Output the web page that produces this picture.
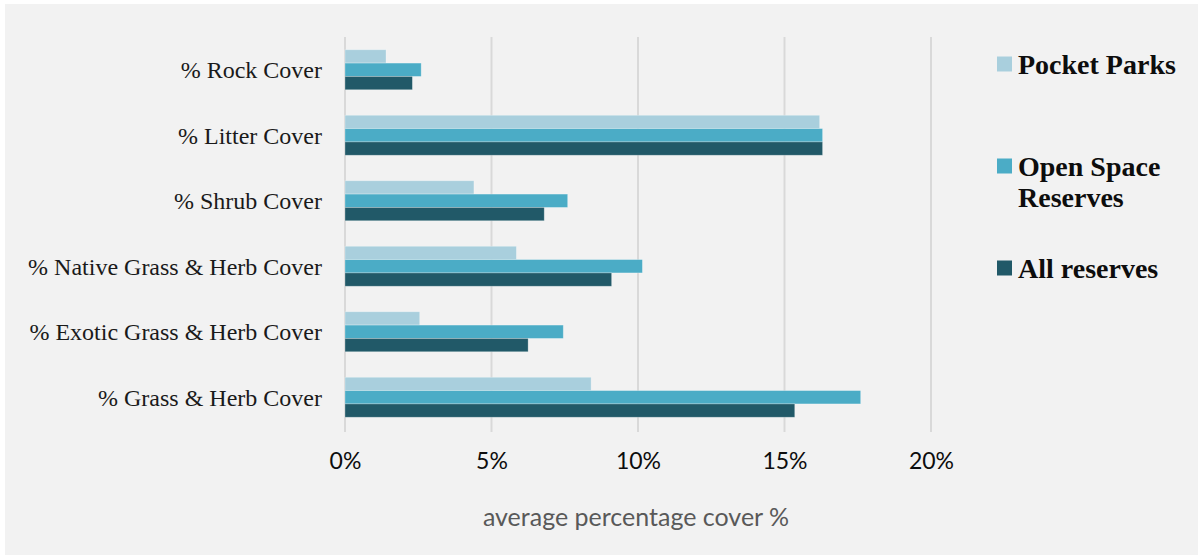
<!DOCTYPE html>
<html>
<head>
<meta charset="utf-8">
<script src="https://cdn.jsdelivr.net/npm/d3@7"></script>
<style>
  html, body { margin: 0; padding: 0; background: #fff; }
</style>
</head>
<body>
<div id="chart"></div>
<script>
// data
const categories = [
  '% Rock Cover',
  '% Litter Cover',
  '% Shrub Cover',
  '% Native Grass & Herb Cover',
  '% Exotic Grass & Herb Cover',
  '% Grass & Herb Cover',
]
const seriesNames = ['Pocket Parks', 'Open Space Reserves', 'All reserves']
const pocketParks = [1.4, 16.2, 4.4, 5.85, 2.55, 8.4]
const openSpaceReserves = [2.6, 16.3, 7.6, 10.15, 7.45, 17.6]
const allReserves = [2.3, 16.3, 6.8, 9.1, 6.25, 15.35]
const xTicks = [0, 5, 10, 15, 20]
const colors = ['#a9cfdd', '#4bacc6', '#215968']

const width = 1203
const height = 559
const margin = { top: 37, right: 272, bottom: 129, left: 345 }

const svg = d3
  .create('svg')
  .attr('width', width)
  .attr('height', height)

// panel background
svg
  .append('rect')
  .attr('x', 5)
  .attr('y', 4)
  .attr('width', width - 10)
  .attr('height', height - 8)
  .attr('fill', '#f2f2f2')

const xScale = d3
  .scaleLinear()
  .domain([0, 20])
  .range([margin.left, width - margin.right])

const yScale = d3
  .scaleBand()
  .domain(categories)
  .range([margin.top, height - margin.bottom])

const innerScale = d3
  .scaleBand()
  .domain(seriesNames)
  .range([0, 40])

// gridlines
svg
  .append('g')
  .attr('class', 'grid')
  .selectAll('line')
  .data(xTicks)
  .join('line')
  .attr('x1', d => xScale(d))
  .attr('x2', d => xScale(d))
  .attr('y1', margin.top)
  .attr('y2', height - margin.bottom + 2)
  .attr('stroke', '#d9d9d9')
  .attr('stroke-width', 2)

// bars
const table = categories.map((c, i) => ({
  category: c,
  values: [pocketParks[i], openSpaceReserves[i], allReserves[i]],
}))

const groups = svg
  .append('g')
  .selectAll('g')
  .data(table)
  .join('g')
  .attr('transform', d => `translate(0, ${yScale(d.category) + (yScale.bandwidth() - 40) / 2})`)

groups
  .selectAll('rect')
  .data(d => d.values.map((v, j) => ({ name: seriesNames[j], value: v, color: colors[j] })))
  .join('rect')
  .attr('x', xScale(0))
  .attr('y', d => innerScale(d.name))
  .attr('width', d => xScale(d.value) - xScale(0))
  .attr('height', innerScale.bandwidth())
  .attr('fill', d => d.color)
  .attr('stroke', 'rgba(255,255,255,0.35)')
  .attr('stroke-width', 0.8)

// category labels
svg
  .append('g')
  .selectAll('text')
  .data(categories)
  .join('text')
  .attr('x', 322)
  .attr('y', d => yScale(d) + yScale.bandwidth() / 2)
  .attr('dy', '0.35em')
  .attr('text-anchor', 'end')
  .attr('font-family', 'Liberation Serif, serif')
  .attr('font-size', 24)
  .attr('fill', '#1a1a1a')
  .text(d => d)

// x axis
const xAxis = d3
  .axisBottom(xScale)
  .tickValues(xTicks)
  .tickFormat(d => d + '%')
  .tickSize(0)
  .tickPadding(0)

const xAxisGroup = svg
  .append('g')
  .attr('transform', `translate(0, 461)`)
  .call(xAxis)
xAxisGroup.select('.domain').remove()
xAxisGroup
  .selectAll('text')
  .attr('dy', '0.35em')
  .attr('font-family', 'Lato, sans-serif')
  .attr('font-size', 23)
  .attr('fill', '#0d0d0d')

svg
  .append('text')
  .attr('x', 636)
  .attr('y', 517)
  .attr('dy', '0.35em')
  .attr('text-anchor', 'middle')
  .attr('font-family', 'Lato, sans-serif')
  .attr('font-size', 25)
  .attr('fill', '#595959')
  .text('average percentage cover %')

// legend
const legendItems = [
  { name: seriesNames[0], lines: ['Pocket Parks'], y: 64 },
  { name: seriesNames[1], lines: ['Open Space', 'Reserves'], y: 166 },
  { name: seriesNames[2], lines: ['All reserves'], y: 268 },
]

const legend = svg
  .append('g')
  .selectAll('g')
  .data(legendItems)
  .join('g')
  .attr('transform', d => `translate(997, ${d.y})`)

legend
  .append('rect')
  .attr('x', 0)
  .attr('y', -7.5)
  .attr('width', 15)
  .attr('height', 15)
  .attr('fill', (d, i) => colors[i])

legend
  .selectAll('text')
  .data(d => d.lines)
  .join('text')
  .attr('x', 21)
  .attr('y', (d, i) => i * 31)
  .attr('dy', '0.35em')
  .attr('font-family', 'Liberation Serif, serif')
  .attr('font-weight', 'bold')
  .attr('font-size', 28)
  .attr('fill', '#0d0d0d')
  .text(d => d)

document.getElementById('chart').appendChild(svg.node())
</script>
</body>
</html>
